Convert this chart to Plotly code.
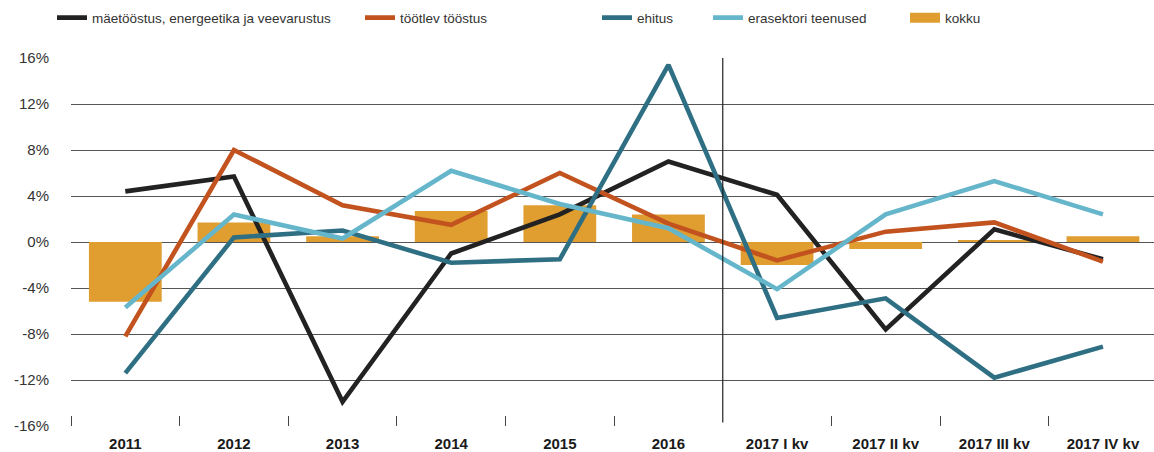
import plotly.graph_objects as go

categories = ["2011", "2012", "2013", "2014", "2015", "2016",
              "2017 I kv", "2017 II kv", "2017 III kv", "2017 IV kv"]
maetoostus = [4.4, 5.7, -13.9, -1.0, 2.4, 7.0, 4.1, -7.6, 1.1, -1.5]
tootlev = [-8.2, 8.0, 3.2, 1.5, 6.0, 1.6, -1.6, 0.9, 1.7, -1.7]
ehitus = [-11.4, 0.4, 1.0, -1.8, -1.5, 15.4, -6.6, -4.9, -11.8, -9.1]
erasektor = [-5.7, 2.4, 0.3, 6.2, 3.3, 1.2, -4.1, 2.4, 5.3, 2.4]
kokku = [-5.2, 1.7, 0.5, 2.7, 3.2, 2.4, -2.0, -0.6, 0.1, 0.5]
y_ticks = [-16, -12, -8, -4, 0, 4, 8, 12, 16]

x = list(range(len(categories)))

c_black = "#222222"
c_orange = "#c2531e"
c_teal = "#2f6f83"
c_light = "#66b6cb"
c_bar = "#e09e31"

ML, W = 71, 1154
PW = W - ML


def px2paper(p):
    return (p - ML) / PW


legend_px = [52, 360, 597, 708, 905]

fig = go.Figure()
fig.add_trace(go.Bar(x=x, y=kokku, marker=dict(color=c_bar, line=dict(width=0)),
                     width=0.67, showlegend=False, name="kokku"))
series = [("mäetööstus, energeetika ja veevarustus", maetoostus, c_black),
          ("töötlev tööstus", tootlev, c_orange),
          ("ehitus", ehitus, c_teal),
          ("erasektori teenused", erasektor, c_light)]
for i, (name, vals, col) in enumerate(series):
    lg = "legend" if i == 0 else f"legend{i + 1}"
    fig.add_trace(go.Scatter(x=x, y=vals, mode="lines", name=name, legend=lg,
                             line=dict(color=col, width=4.6)))
# legend entry for bars (wide rectangle)
fig.add_trace(go.Scatter(x=[None], y=[None], mode="lines", name="kokku", legend="legend5",
                         line=dict(color=c_bar, width=14)))

fig.add_shape(type="line", xref="x", yref="y", x0=5.5, x1=5.5, y0=16, y1=-15.7,
              line=dict(color="#222222", width=1.2), layer="above")

legend_common = dict(orientation="h", xanchor="left", y=1.109, yanchor="middle",
                     font=dict(size=13.5, color="#333333"), bgcolor="rgba(0,0,0,0)",
                     borderwidth=0)
legends = {}
for i, p in enumerate(legend_px):
    key = "legend" if i == 0 else f"legend{i + 1}"
    legends[key] = dict(x=px2paper(p), **legend_common)

fig.update_layout(
    width=W, height=452,
    margin=dict(l=ML, r=0, t=58, b=26, autoexpand=False),
    plot_bgcolor="white", paper_bgcolor="white",
    font=dict(family="Liberation Sans, Arial, sans-serif", size=14, color="#333333"),
    xaxis=dict(range=[-0.5, 9.47], tickvals=x, ticktext=categories, automargin=False,
               tickfont=dict(size=15, color="#1a1a1a", family="Liberation Sans, Arial, sans-serif", weight="bold"),
               showgrid=False, zeroline=False, showline=False, ticks="", ticklabelstandoff=7,
               minor=dict(tickvals=[i - 0.5 for i in x if i != 6], ticks="inside",
                          ticklen=10, tickcolor="#444444", tickwidth=1.2, showgrid=False),
               fixedrange=True),
    yaxis=dict(range=[-16, 16], tickvals=y_ticks, ticktext=[f"{v}%" for v in y_ticks],
               showgrid=True, gridcolor="#555555", gridwidth=1.2, zeroline=False,
               showline=False, ticks="", ticklabelstandoff=21, automargin=False,
               tickfont=dict(size=15, color="#333333"), fixedrange=True),
    **legends,
)

fig.write_html("out.html", config={"displayModeBar": False},
               post_script="document.body.style.margin='0';document.body.style.overflow='hidden';")
